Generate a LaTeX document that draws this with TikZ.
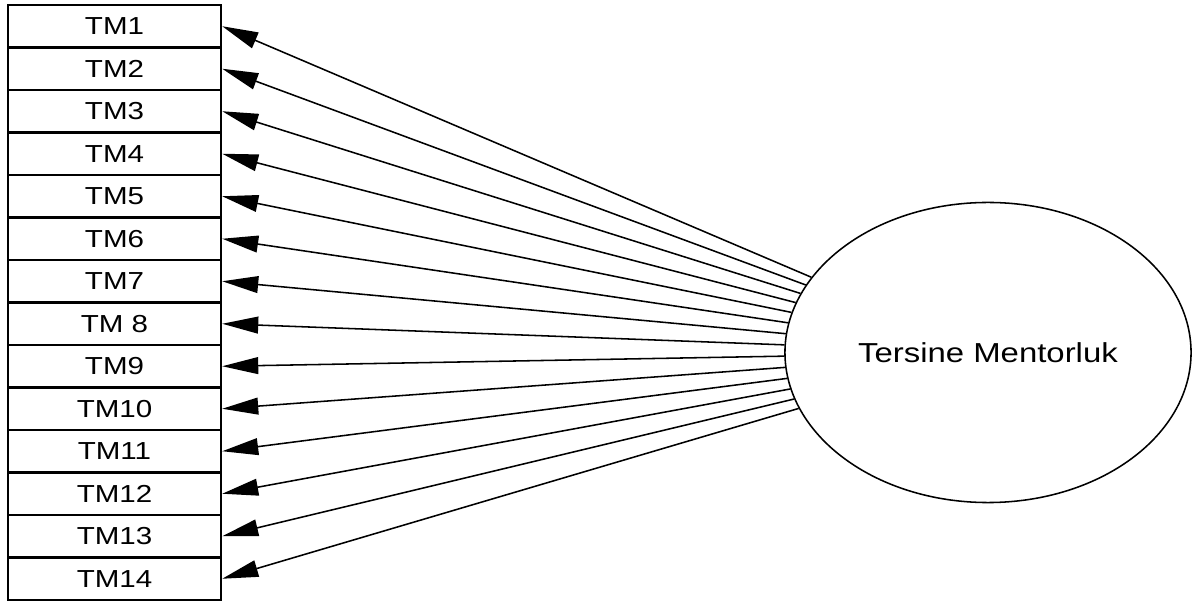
\documentclass[tikz,border=0pt]{standalone}
\usepackage{fontspec}
\setmainfont{Liberation Sans}
\usetikzlibrary{positioning,arrows.meta}
\usetikzlibrary{shapes.geometric}

\newcommand{\genis}[1]{\scalebox{1.2}[1]{#1}}

\begin{document}
\begin{tikzpicture}[
    x=0.025cm, y=-0.025cm,
    >={Triangle[length=0.9cm, width=0.42cm]},
    kutu/.style={draw, line width=1.7pt, minimum width=5.325cm, minimum height=1.0625cm,
      inner sep=0pt, font=\fontsize{17.5pt}{20pt}\selectfont},
    gizil/.style={ellipse, draw, line width=1.1pt, minimum width=10.15cm, minimum height=7.5cm,
      inner sep=0pt, font=\fontsize{19.5pt}{22pt}\selectfont},
    ok/.style={->, line width=1.1pt}
  ]
  \useasboundingbox (0,0) rectangle (1192,602);

  % kutular
  \node[kutu] (tm1)  at (114.5,26.25)  {\genis{TM1}};
  \node[kutu] (tm2)  at (114.5,68.75)  {\genis{TM2}};
  \node[kutu] (tm3)  at (114.5,111.25) {\genis{TM3}};
  \node[kutu] (tm4)  at (114.5,153.75) {\genis{TM4}};
  \node[kutu] (tm5)  at (114.5,196.25) {\genis{TM5}};
  \node[kutu] (tm6)  at (114.5,238.75) {\genis{TM6}};
  \node[kutu] (tm7)  at (114.5,281.25) {\genis{TM7}};
  \node[kutu] (tm8)  at (114.5,323.75) {\genis{TM 8}};
  \node[kutu] (tm9)  at (114.5,366.25) {\genis{TM9}};
  \node[kutu] (tm10) at (114.5,408.75) {\genis{TM10}};
  \node[kutu] (tm11) at (114.5,451.25) {\genis{TM11}};
  \node[kutu] (tm12) at (114.5,493.75) {\genis{TM12}};
  \node[kutu] (tm13) at (114.5,536.25) {\genis{TM13}};
  \node[kutu] (tm14) at (114.5,578.75) {\genis{TM14}};

  % gizil degisken
  \node[gizil] (tersine) at (988,352.5) {\genis{Tersine Mentorluk}};

  % oklar
  \draw[ok] (tersine) -- (tm1.east);
  \draw[ok] (tersine) -- (tm2.east);
  \draw[ok] (tersine) -- (tm3.east);
  \draw[ok] (tersine) -- (tm4.east);
  \draw[ok] (tersine) -- (tm5.east);
  \draw[ok] (tersine) -- (tm6.east);
  \draw[ok] (tersine) -- (tm7.east);
  \draw[ok] (tersine) -- (tm8.east);
  \draw[ok] (tersine) -- (tm9.east);
  \draw[ok] (tersine) -- (tm10.east);
  \draw[ok] (tersine) -- (tm11.east);
  \draw[ok] (tersine) -- (tm12.east);
  \draw[ok] (tersine) -- (tm13.east);
  \draw[ok] (tersine) -- (tm14.east);

\end{tikzpicture}
\end{document}
